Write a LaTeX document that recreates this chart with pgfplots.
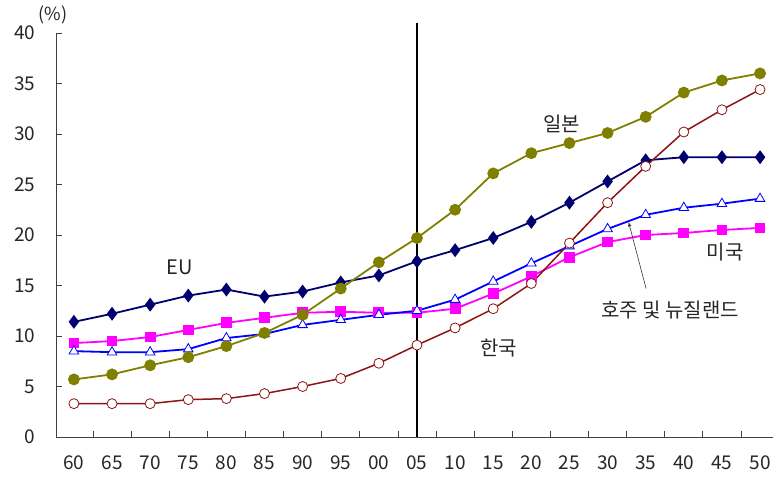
\documentclass[border=0pt]{standalone}
\usepackage{pgfplots}
\pgfplotsset{compat=1.18}
\usepackage{fontspec}
\setmainfont{Noto Sans CJK KR}

\definecolor{eucol}{RGB}{0,0,110}
\definecolor{jpcol}{RGB}{128,128,0}
\definecolor{uscol}{RGB}{255,0,255}
\definecolor{aucol}{RGB}{0,0,255}
\definecolor{krcol}{RGB}{140,20,20}

\begin{document}
\begin{tikzpicture}
\useasboundingbox (-56pt,-40pt) rectangle (717pt,437pt);
\begin{axis}[
    scale only axis,
    width=717pt, height=404pt,
    xmin=-0.47, xmax=18.34,
    ymin=0, ymax=40,
    clip=false,
    axis x line*=bottom, axis y line*=left,
    axis line style={-, black!75, line width=0.8pt},
    tick align=inside,
    major tick length=6pt,
    minor tick length=6pt,
    tick style={black!75, line width=0.8pt},
    ytick={0,5,...,40},
    xtick={0,...,18},
    xticklabels={60,65,70,75,80,85,90,95,00,05,10,15,20,25,30,35,40,45,50},
    major x tick style={draw=none},
    minor xtick={0.5,1.5,...,17.5},
    /pgf/number format/assume math mode=true,
    tick label style={font=\fontsize{19}{22}\selectfont, text=black!85},
    yticklabel style={xshift=-17pt},
    xticklabel style={yshift=-15pt},
]

\addplot[uscol, line width=1.8pt, mark=square*, mark size=4.5pt, mark options={fill=uscol}] coordinates {
    (0,9.3) (1,9.5) (2,9.9) (3,10.6) (4,11.3) (5,11.8) (6,12.3) (7,12.4) (8,12.3) (9,12.3)
    (10,12.7) (11,14.2) (12,15.9) (13,17.8) (14,19.3) (15,20.0) (16,20.2) (17,20.5) (18,20.7)
};

\addplot[aucol, line width=1.8pt, mark=triangle*, mark size=5.5pt, mark options={fill=white, line width=0.8pt}] coordinates {
    (0,8.5) (1,8.4) (2,8.4) (3,8.7) (4,9.8) (5,10.2) (6,11.1) (7,11.6) (8,12.1) (9,12.5)
    (10,13.6) (11,15.4) (12,17.2) (13,18.9) (14,20.6) (15,22.0) (16,22.7) (17,23.1) (18,23.6)
};

\addplot[eucol, line width=1.8pt, mark=diamond*, mark size=5.5pt, mark options={fill=eucol}] coordinates {
    (0,11.4) (1,12.2) (2,13.1) (3,14.0) (4,14.6) (5,13.9) (6,14.4) (7,15.3) (8,16.0) (9,17.4)
    (10,18.5) (11,19.7) (12,21.3) (13,23.2) (14,25.3) (15,27.4) (16,27.7) (17,27.7) (18,27.7)
};

\addplot[jpcol, line width=1.8pt, mark=*, mark size=5pt, mark options={fill=jpcol}] coordinates {
    (0,5.7) (1,6.2) (2,7.1) (3,7.9) (4,9.0) (5,10.3) (6,12.1) (7,14.7) (8,17.3) (9,19.7)
    (10,22.5) (11,26.1) (12,28.1) (13,29.1) (14,30.1) (15,31.7) (16,34.1) (17,35.3) (18,36.0)
};

\addplot[krcol, line width=1.5pt, mark=*, mark size=5pt, mark options={fill=white, draw=krcol, line width=0.8pt}] coordinates {
    (0,3.3) (1,3.3) (2,3.3) (3,3.7) (4,3.8) (5,4.3) (6,5.0) (7,5.8) (8,7.3) (9,9.1)
    (10,10.8) (11,12.7) (12,15.2) (13,19.2) (14,23.2) (15,26.8) (16,30.2) (17,32.4) (18,34.4)
};

% 2005 divider
\draw[black, line width=1.8pt] (axis cs:9,0) -- (axis cs:9,41);

\begin{scope}[every node/.style={font=\fontsize{20}{24}\selectfont, text=black!85}]
\node at (axis cs:2.78,16.8) {EU};
\node at (axis cs:12.8,31.0) {일본};
\node at (axis cs:17.09,18.3) {미국};
\node at (axis cs:15.64,12.6) {호주 및 뉴질랜드};
\node at (axis cs:11.15,8.8) {한국};
\end{scope}
\node[font=\fontsize{18}{22}\selectfont, text=black!85] at (axis cs:-0.55,41.8) {(\%)};
\draw[-latex, black!80, line width=0.6pt] (axis cs:15.01,14.7) -- (axis cs:14.55,21.3);

\end{axis}
\end{tikzpicture}
\end{document}
